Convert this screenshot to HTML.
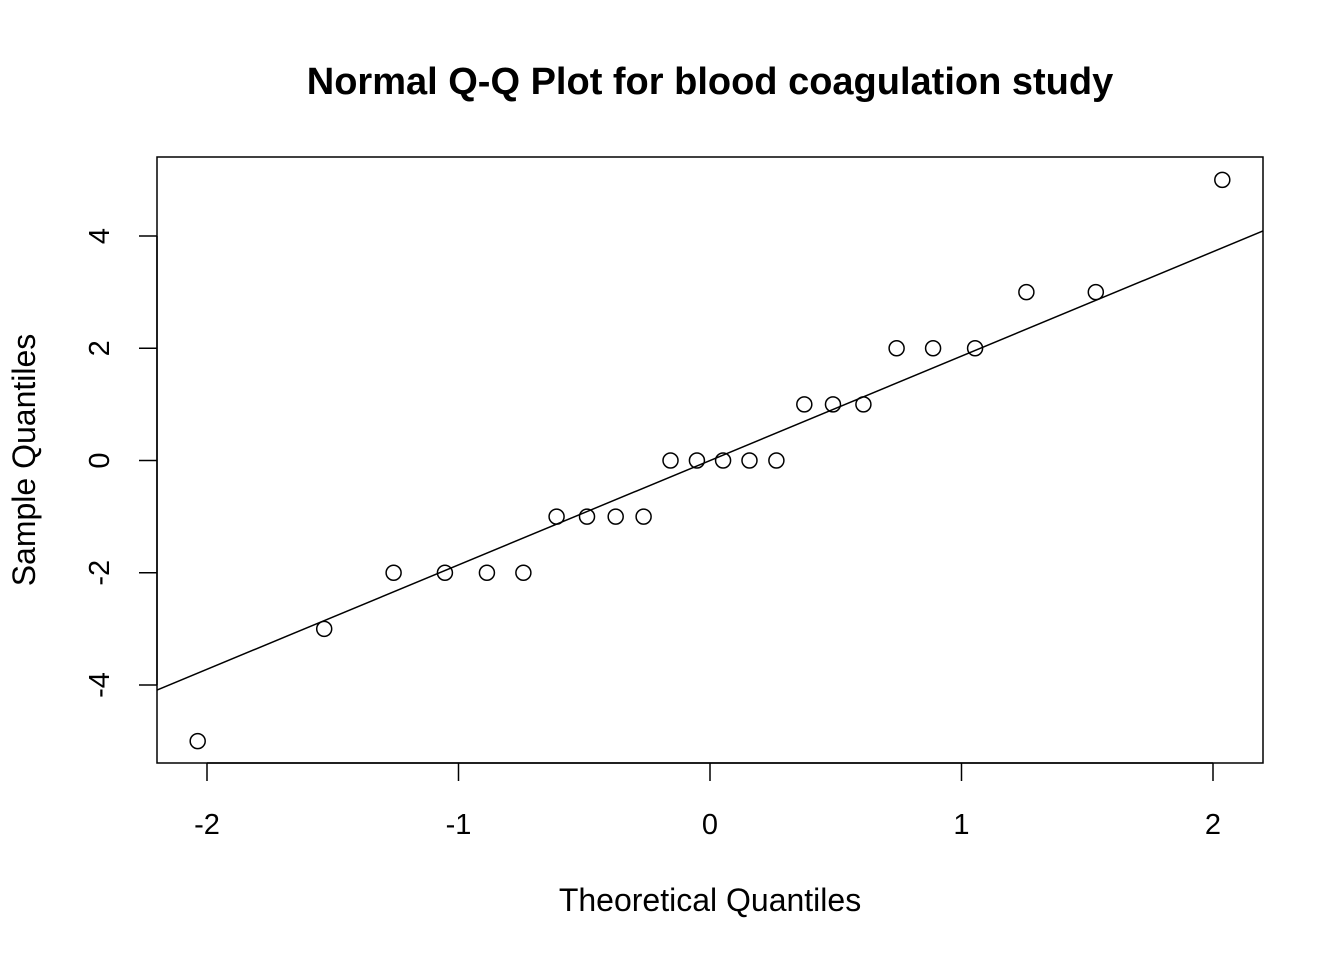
<!DOCTYPE html>
<html><head><meta charset="utf-8"><style>
html,body{margin:0;padding:0;background:#fff;}
svg{display:block;font-family:"Liberation Sans",Arial,sans-serif;}
</style></head><body>
<svg id="chart" width="1344" height="960" viewBox="0 0 1344 960" xmlns="http://www.w3.org/2000/svg">
<text x="710" y="94" text-anchor="middle" font-size="38" font-weight="bold">Normal Q-Q Plot for blood coagulation study</text>
<rect x="157" y="157" width="1106" height="606" fill="none" stroke="#000" stroke-width="1.5"/>
<g id="xaxis"></g>
<g id="yaxis"></g>
<g id="marks"></g>
<text x="710" y="911" text-anchor="middle" font-size="32">Theoretical Quantiles</text>
<text transform="translate(35,460) rotate(-90)" text-anchor="middle" font-size="32">Sample Quantiles</text>
</svg>
<script>
const theoretical=[-2.037,-1.534,-1.258,-1.054,-0.887,-0.742,-0.610,-0.489,-0.375,-0.264,-0.157,-0.052,0.052,0.157,0.264,0.375,0.489,0.610,0.742,0.887,1.054,1.258,1.534,2.037];
const sample=[-5,-3,-2,-2,-2,-2,-1,-1,-1,-1,0,0,0,0,0,1,1,1,2,2,2,3,3,5];
const xTicks=[-2,-1,0,1,2];
const yTicks=[-4,-2,0,2,4];
const lineIntercept=[0];
const lineSlope=[1.86];
const NS="http://www.w3.org/2000/svg";
const sx=v=>710+v*251.5;
const sy=v=>460.5-v*56.125;
function mk(tag,attrs,parent){const e=document.createElementNS(NS,tag);for(const k in attrs)e.setAttribute(k,attrs[k]);parent.appendChild(e);return e;}
const xa=document.getElementById('xaxis'),ya=document.getElementById('yaxis'),mg=document.getElementById('marks');
mk('line',{x1:sx(-2),x2:sx(2),y1:763,y2:763,stroke:'#000','stroke-width':1.5},xa);
xTicks.forEach(t=>{
 const l=mk('line',{x1:sx(t),x2:sx(t),y1:763,y2:781,stroke:'#000','stroke-width':1.5},xa);
 
 
 const tx=mk('text',{x:sx(t),y:834,'text-anchor':'middle','font-size':29},xa);
 
 
 tx.textContent=t;
});
mk('line',{x1:157,x2:157,y1:sy(-4),y2:sy(4),stroke:'#000','stroke-width':1.5},ya);
yTicks.forEach(t=>{
 const l=mk('line',{x1:139,x2:157,y1:sy(t),y2:sy(t),stroke:'#000','stroke-width':1.5},ya);
 
 
 const tx=mk('text',{transform:`translate(109,${sy(t)}) rotate(-90)`,'text-anchor':'middle','font-size':29},ya);
 
 
 tx.textContent=t;
});
const x0=-2.2,x1=2.2;
const ln=mk('line',{x1:sx(x0),y1:sy(lineIntercept[0]+lineSlope[0]*x0),x2:sx(x1),y2:sy(lineIntercept[0]+lineSlope[0]*x1),stroke:'#000','stroke-width':1.5},mg);


theoretical.forEach((v,i)=>{
 const c=mk('circle',{cx:sx(v),cy:sy(sample[i]),r:7.5,fill:'none',stroke:'#000','stroke-width':1.5},mg);
 
 
});
</script>
</body></html>
